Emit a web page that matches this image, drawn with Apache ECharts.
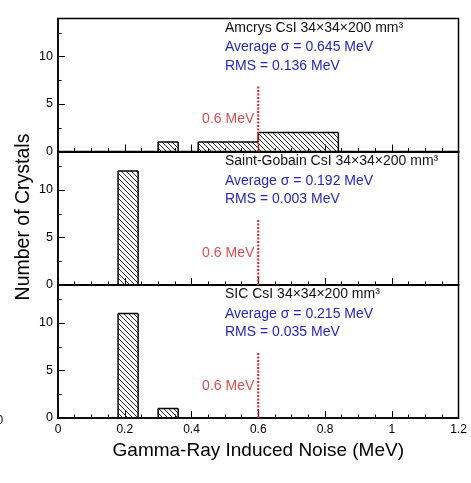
<!DOCTYPE html>
<html><head><meta charset="utf-8">
<script src="https://cdn.jsdelivr.net/npm/echarts@6/dist/echarts.min.js"></script>
<style>html,body{margin:0;padding:0;background:#fff}#c{width:471px;height:483px}</style>
</head><body><div id="c"></div>
<script>
// ---- data ----
const binWidth = 0.06;
const amcrysBinStart = [0.30, 0.42, 0.48, 0.54, 0.60, 0.66, 0.72, 0.78];
const amcrysCounts   = [1, 1, 1, 1, 2, 2, 2, 2];
const sgBinStart = [0.18];
const sgCounts   = [12];
const sicBinStart = [0.18, 0.30];
const sicCounts   = [11, 1];
const panelTitles = ['Amcrys CsI 34\u00d734\u00d7200 mm\u00b3', 'Saint-Gobain CsI 34\u00d734\u00d7200 mm\u00b3', 'SIC CsI 34\u00d734\u00d7200 mm\u00b3'];
const averageSigma = ['0.645', '0.192', '0.215'];
const rmsValues = ['0.136', '0.003', '0.035'];
const thresholdMeV = 0.6;
const thresholdLineTop = 7;
const thresholdLabelY = 3.4;
const thresholdLabel = '0.6 MeV';
const xAxisTitle = 'Gamma-Ray Induced Noise (MeV)';
const yAxisTitle = 'Number of Crystals';

const panels = [
  {starts: amcrysBinStart, counts: amcrysCounts},
  {starts: sgBinStart, counts: sgCounts},
  {starts: sicBinStart, counts: sicCounts}
];

const FONT = "'Liberation Sans', Arial, sans-serif";
const gridTops = [18.5, 152, 285];
const gridH = 133;
const gridLeft = 58;
const gridRight = 12.5;

function makeHatch() {
  const s = 5;
  const c = document.createElement('canvas');
  c.width = s; c.height = s;
  const g = c.getContext('2d');
  g.strokeStyle = '#2a2a2a';
  g.lineWidth = 1;
  g.beginPath();
  g.moveTo(0, 0); g.lineTo(s, s);
  g.moveTo(-1, s - 1); g.lineTo(1, s + 1);
  g.moveTo(s - 1, -1); g.lineTo(s + 1, 1);
  g.stroke();
  return c;
}
const hatch = makeHatch();

function makeRender(starts, counts) {
  return function (params, api) {
    const i = params.dataIndex;
    const x0 = api.value(0), h = api.value(1), x1 = x0 + binWidth;
    const tl = api.coord([x0, h]), br = api.coord([x1, 0]);
    const ls = {stroke: '#000', lineWidth: 1.5};
    const children = [{
      type: 'rect',
      shape: {x: tl[0], y: tl[1], width: br[0] - tl[0], height: br[1] - tl[1]},
      style: {fill: {image: hatch, repeat: 'repeat'}, stroke: null}
    }, {
      type: 'line', shape: {x1: tl[0], y1: tl[1], x2: br[0], y2: tl[1]}, style: ls
    }];
    const prevAdj = i > 0 && Math.abs(starts[i - 1] + binWidth - x0) < 1e-6;
    const nextAdj = i < starts.length - 1 && Math.abs(starts[i + 1] - x1) < 1e-6;
    const lb = prevAdj ? counts[i - 1] : 0;
    if (lb < h) {
      const p = api.coord([x0, lb]);
      children.push({type: 'line', shape: {x1: tl[0], y1: tl[1], x2: tl[0], y2: p[1]}, style: ls});
    }
    const rb = nextAdj ? counts[i + 1] : 0;
    if (rb < h) {
      const p = api.coord([x1, rb]);
      children.push({type: 'line', shape: {x1: br[0], y1: tl[1], x2: br[0], y2: p[1]}, style: ls});
    }
    return {type: 'group', children: children};
  };
}

const grid = [], xAxis = [], yAxis = [], series = [], graphic = [];
panels.forEach((p, g) => {
  grid.push({left: gridLeft, right: gridRight, top: gridTops[g], height: gridH,
    show: true, borderColor: '#000', borderWidth: 1.5, backgroundColor: 'transparent'});
  const last = g === panels.length - 1;
  xAxis.push({
    gridIndex: g, type: 'value', min: 0, max: 1.2, interval: 0.2,
    axisLine: {show: true, onZero: false, lineStyle: {color: '#000', width: last ? 1.5 : 2}},
    axisTick: {show: true, inside: true, length: 7, lineStyle: {color: '#000', width: 1}},
    minorTick: {show: true, splitNumber: 4, length: 3.5, lineStyle: {color: '#000', width: 1}},
    splitLine: {show: false},
    axisLabel: {show: last, color: '#000', fontSize: 12, fontFamily: FONT, margin: 6,
      formatter: v => String(+v.toFixed(1))},
    name: last ? xAxisTitle : '', nameLocation: 'middle', nameGap: 23,
    nameTextStyle: {color: '#000', fontSize: 19, fontFamily: FONT}
  });
  yAxis.push({
    gridIndex: g, type: 'value', min: 0, max: 14, interval: 5, position: 'left',
    axisLine: {show: true, onZero: false, lineStyle: {color: '#000', width: 1.5}},
    axisTick: {show: true, inside: true, length: 7, lineStyle: {color: '#000', width: 1}},
    splitLine: {show: false},
    axisLabel: {color: '#000', fontSize: 12.5, fontFamily: FONT, margin: 5,
      formatter: v => (v % 5 === 0 ? String(v) : '')}
  });
  yAxis.push({
    gridIndex: g, type: 'value', min: 0, max: 14, interval: 2.5, position: 'left',
    axisLine: {show: false}, splitLine: {show: false}, axisLabel: {show: false},
    axisTick: {show: true, inside: true, length: 3.5, lineStyle: {color: '#000', width: 1}}
  });
  series.push({
    type: 'custom', xAxisIndex: g, yAxisIndex: 2 * g,
    data: p.starts.map((s, i) => [s, p.counts[i]]),
    encode: {x: 0, y: 1},
    renderItem: makeRender(p.starts, p.counts),
    z: 3
  });
  series.push({
    type: 'line', xAxisIndex: g, yAxisIndex: 2 * g,
    data: [[thresholdMeV, 0], [thresholdMeV, thresholdLineTop]],
    symbol: 'none', silent: true, z: 4,
    lineStyle: {color: '#e01e24', width: 2, type: [2, 1.5]}
  });
  series.push({
    type: 'scatter', xAxisIndex: g, yAxisIndex: 2 * g,
    data: [[thresholdMeV, thresholdLabelY]], symbolSize: 0, silent: true,
    label: {show: true, position: 'left', distance: 4, formatter: thresholdLabel,
      color: '#d81e22', fontSize: 14, fontFamily: FONT}
  });
  const t = gridTops[g];
  graphic.push({type: 'text', x: 225, y: t + 9.5,
    style: {text: panelTitles[g], fill: '#111', font: '14px ' + FONT, verticalAlign: 'middle'}});
  graphic.push({type: 'text', x: 225, y: t + 28.8,
    style: {text: 'Average \u03c3 = ' + averageSigma[g] + ' MeV', fill: '#2626bd', font: '14px ' + FONT, verticalAlign: 'middle'}});
  graphic.push({type: 'text', x: 225, y: t + 47.3,
    style: {text: 'RMS = ' + rmsValues[g] + ' MeV', fill: '#2626bd', font: '14px ' + FONT, verticalAlign: 'middle'}});
});

graphic.push({type: 'text', x: 24, y: 217, rotation: Math.PI / 2,
  style: {text: yAxisTitle, fill: '#000', font: '19.5px ' + FONT, align: 'center', verticalAlign: 'middle'}});
graphic.push({type: 'text', x: -3.5, y: 421,
  style: {text: '0', fill: '#000', font: '12px ' + FONT, verticalAlign: 'middle'}});

const chart = echarts.init(document.getElementById('c'), null, {renderer: 'canvas'});
chart.setOption({animation: false, backgroundColor: '#fff', grid, xAxis, yAxis, series, graphic});
</script>
</body></html>
